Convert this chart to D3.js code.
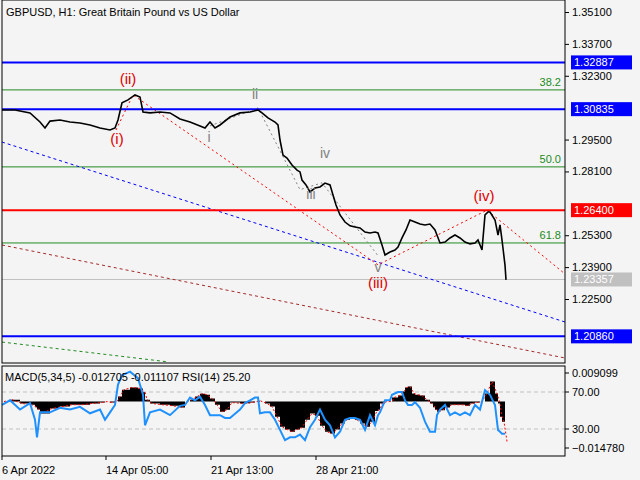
<!DOCTYPE html><html><head><meta charset="utf-8">
<script src="https://cdn.jsdelivr.net/npm/d3@7"></script>
<style>body{margin:0;background:#f4f4f4}text{font-family:"Liberation Sans",Arial,sans-serif;font-size:11px}</style></head><body>
<svg id="c" width="640" height="480"></svg>
<script>
const priceBars=[0,13,28,38,43,48,58,68,78,88,98,108,113,116,120,126,133,138,141,148,158,168,178,188,198,203,208,213,218,228,238,248,256,260,266,273,276,278,281,285,290,295,298,300,304,308,313,318,323,328,331,334,338,343,348,353,358,363,368,373,376,380,383,388,393,396,400,404,408,413,418,423,428,433,438,443,448,453,458,463,468,473,476,478,480,483,486,488,493,496,498,500,503,504];
const price=[1.3080,1.3080,1.3067,1.3027,1.3001,1.3031,1.3036,1.3027,1.3023,1.3014,1.3001,1.2992,1.3001,1.3036,1.3111,1.3124,1.3146,1.3137,1.3071,1.3067,1.3071,1.3067,1.3040,1.3027,1.3010,1.3001,1.3027,1.3001,1.3014,1.3049,1.3067,1.3071,1.3080,1.3067,1.3045,1.3027,1.3014,1.2948,1.2882,1.2869,1.2838,1.2816,1.2808,1.2772,1.2751,1.2720,1.2737,1.2742,1.2759,1.2751,1.2707,1.2663,1.2619,1.2588,1.2571,1.2566,1.2562,1.2544,1.2540,1.2544,1.2540,1.2487,1.2443,1.2456,1.2465,1.2478,1.2518,1.2553,1.2597,1.2588,1.2579,1.2575,1.2579,1.2553,1.2496,1.2500,1.2518,1.2531,1.2518,1.2500,1.2492,1.2496,1.2509,1.2487,1.2465,1.2619,1.2632,1.2632,1.2597,1.2531,1.2575,1.2509,1.2399,1.2334];
const indBars=[0,8,18,28,33,35,38,48,58,68,78,88,98,103,108,113,116,120,128,136,141,143,148,158,168,178,183,188,193,198,203,208,213,218,223,228,238,243,248,253,256,258,263,268,273,278,283,288,293,298,303,308,313,318,323,328,333,338,343,348,353,358,363,368,373,376,378,383,388,390,396,400,403,406,410,413,418,423,428,431,433,435,438,443,448,453,458,463,468,473,478,483,488,493,496,498,500,503];
const macd=[0,0.0006,-0.0006,-0.001,-0.0018,-0.0025,-0.0038,-0.0022,-0.0016,-0.001,-0.001,-0.0006,-0.0003,0,-0.0003,0,0.0016,0.0038,0.0045,0.0042,0.003,0.0006,-0.0006,-0.001,-0.0013,-0.0019,0,0.0006,0.0016,0.0025,0.0022,0.001,-0.001,-0.0032,-0.0026,-0.0003,-0.0006,-0.0005,-0.0003,0,0.0003,0,-0.0006,-0.0016,-0.0048,-0.008,-0.0089,-0.0096,-0.0089,-0.0083,-0.0058,-0.0038,-0.0045,-0.0077,-0.0096,-0.0102,-0.0089,-0.007,-0.0058,-0.0051,-0.0058,-0.007,-0.008,-0.0064,-0.003,-0.0026,-0.0006,0,0,0.0013,0.0019,0.0032,0.0045,0.0048,0.0026,0.0022,0.0019,0.0006,-0.0006,-0.0018,-0.0026,-0.0032,-0.0028,-0.0019,-0.001,-0.001,-0.001,-0.0013,-0.0006,-0.0003,0,0.0026,0.0064,0.0026,-0.0006,-0.0048,-0.0064,-0.0127];
const rsi=[56,61,51,58,40,21,48,48,53,51,54,47,51,40,48,56,78,88,92,85,67,34,48,51,45,55,56,64,61,65,56,45,45,45,42,42,51,58,61,64,64,47,48,48,40,29,18,21,21,24,18,32,40,51,40,34,21,27,40,42,42,40,29,45,34,45,48,61,61,67,70,70,61,56,56,59,53,38,27,27,27,45,51,56,45,48,45,48,45,56,51,72,67,56,29,27,25,25];
const yTicks=[1.351,1.337,1.323,1.295,1.281,1.253,1.239,1.225];
const xTickBars=[0,104,209,314];
const xTickLabels=["6 Apr 2022","14 Apr 05:00","21 Apr 13:00","28 Apr 21:00"];
const blueLevels=[1.32887,1.30835,1.20860];
const redLevel=1.26400, lastPrice=1.23357;
const fibLevels=[1.3168,1.2830,1.2496], fibLabels=["38.2","50.0","61.8"];
const waveRed=[[114,1.2992],[131,1.3146],[376,1.2400],[485,1.2640],[563,1.2360]];
const waveGray=[[208,1.3010],[256,1.3089],[298,1.2730],[320,1.2760],[376,1.2440]];
const labelsRed=[["(i)",115,1.2930],["(ii)",126,1.3195],["(iii)",376,1.2300],["(iv)",482,1.2680]];
const labelsGray=[["i",207,1.2940],["ii",253,1.3130],["iii",309,1.2690],["iv",323,1.2870],["v",376,1.2370]];
const trendBlue=[[0,1.2939],[563,1.2149]], trendBrown=[[0,1.2487],[563,1.1991]], trendGreen=[[0,1.2061],[166,1.1974]];

const svg=d3.select("#c");
const L=2,R=565,T=0,B=363,IT=366,IB=456;
const x=d3.scaleLinear().domain([0,563]).range([L,R]);
const y=d3.scaleLinear().domain([1.22500,1.35100]).range([299,12]);
const ym=d3.scaleLinear().domain([-0.014780,0.009099]).range([448,373]);
const yr=d3.scaleLinear().domain([30,70]).range([429,392]);
svg.append("defs").append("clipPath").attr("id","cm").append("rect").attr("x",L).attr("y",T).attr("width",R-L).attr("height",B-T);
svg.append("defs").append("clipPath").attr("id","ci").append("rect").attr("x",L).attr("y",IT).attr("width",R-L).attr("height",IB-IT);
const m=svg.append("g").attr("clip-path","url(#cm)");
const line=d3.line().x(d=>x(d[0])).y(d=>y(d[1]));
m.selectAll(".fib").data(fibLevels).join("line").attr("x1",L).attr("x2",R).attr("y1",d=>y(d)).attr("y2",d=>y(d)).attr("stroke","#228b22");
m.selectAll(".fl").data(fibLevels).join("text").attr("x",R-4).attr("y",d=>y(d)-4).attr("text-anchor","end").attr("fill","#228b22").text((d,i)=>fibLabels[i]);
m.append("line").attr("x1",L).attr("x2",R).attr("y1",y(lastPrice)).attr("y2",y(lastPrice)).attr("stroke","#c0c0c0");
[[trendBlue,"#0000ff"],[trendBrown,"#a52a2a"],[trendGreen,"#228b22"]].forEach(([d,c])=>m.append("path").attr("d",line(d)).attr("stroke",c).attr("fill","none").attr("stroke-dasharray","3,3"));
m.append("path").attr("d",line(waveRed)).attr("stroke","red").attr("fill","none").attr("stroke-dasharray","2,3");
m.append("path").attr("d",line(waveGray)).attr("stroke","#808080").attr("fill","none").attr("stroke-dasharray","2,3");
m.selectAll(".bl").data(blueLevels).join("line").attr("x1",L).attr("x2",R).attr("y1",d=>y(d)).attr("y2",d=>y(d)).attr("stroke","#0000ff").attr("stroke-width",2);
m.append("line").attr("x1",L).attr("x2",R).attr("y1",y(redLevel)).attr("y2",y(redLevel)).attr("stroke","red").attr("stroke-width",2);
m.append("path").attr("d",line(priceBars.map((b,i)=>[b,price[i]]))).attr("stroke","#000").attr("stroke-width",1.6).attr("fill","none");
labelsRed.forEach(([t,b,p])=>m.append("text").attr("x",x(b)).attr("y",y(p)).attr("text-anchor","middle").attr("fill","#e00000").style("font-size","15px").text(t));
labelsGray.forEach(([t,b,p])=>m.append("text").attr("x",x(b)).attr("y",y(p)).attr("text-anchor","middle").attr("fill","#808080").style("font-size","14px").text(t));
m.append("text").attr("x",6).attr("y",16).text("GBPUSD, H1:  Great Britain Pound vs US Dollar");
const g=svg.append("g").attr("clip-path","url(#ci)");
[70,30].forEach(v=>g.append("line").attr("x1",L).attr("x2",R).attr("y1",yr(v)).attr("y2",yr(v)).attr("stroke","#c0c0c0").attr("stroke-dasharray","4,3"));
const area=d3.area().x((d,i)=>x(indBars[i])).y0(ym(0)).y1(d=>ym(d)).curve(d3.curveStepAfter);
g.append("path").attr("d",area(macd)).attr("fill","#000");
g.append("path").attr("d",d3.line().x((d,i)=>x(indBars[i])+2).y(d=>ym(d))(macd)).attr("stroke","red").attr("fill","none").attr("stroke-dasharray","2,2");
g.append("path").attr("d",d3.line().x((d,i)=>x(indBars[i])).y(d=>yr(d))(rsi)).attr("stroke","#1e90ff").attr("stroke-width",2).attr("fill","none");
svg.append("text").attr("x",5).attr("y",381).text("MACD(5,34,5) -0.012705 -0.011107 RSI(14) 25.20");
svg.append("rect").attr("x",L).attr("y",T).attr("width",R-L).attr("height",B-T).attr("fill","none").attr("stroke","#000");
svg.append("rect").attr("x",L).attr("y",IT).attr("width",R-L).attr("height",IB-IT).attr("fill","none").attr("stroke","#000");
svg.append("g").attr("transform",`translate(${R},0)`).call(d3.axisRight(y).tickValues(yTicks).tickFormat(d3.format(".5f")).tickSize(4)).call(a=>{a.select(".domain").remove();a.selectAll("text").style("font-size","11px").attr("x",7)});
const box=(v,c,tc)=>{svg.append("rect").attr("x",R+6).attr("y",y(v)-7).attr("width",61).attr("height",14).attr("fill",c);svg.append("text").attr("x",R+9).attr("y",y(v)+4).attr("fill",tc).text(d3.format(".5f")(v));};
blueLevels.forEach(v=>box(v,"#0000ff","#fff"));box(redLevel,"red","#fff");box(lastPrice,"#c0c0c0","#fff");
[[0.009099,373],[null,392,"70.00"],[null,429,"30.00"],[-0.014780,448]].forEach(([v,yy,t])=>{svg.append("line").attr("x1",R).attr("x2",R+4).attr("y1",yy).attr("y2",yy).attr("stroke","#000");svg.append("text").attr("x",R+7).attr("y",yy+4).text(t||d3.format(".6f")(v));});
xTickBars.forEach((b,i)=>{svg.append("line").attr("x1",x(b)).attr("x2",x(b)).attr("y1",IB).attr("y2",IB+4).attr("stroke","#000");svg.append("text").attr("x",x(b)).attr("y",474).text(xTickLabels[i]);});
</script></body></html>
